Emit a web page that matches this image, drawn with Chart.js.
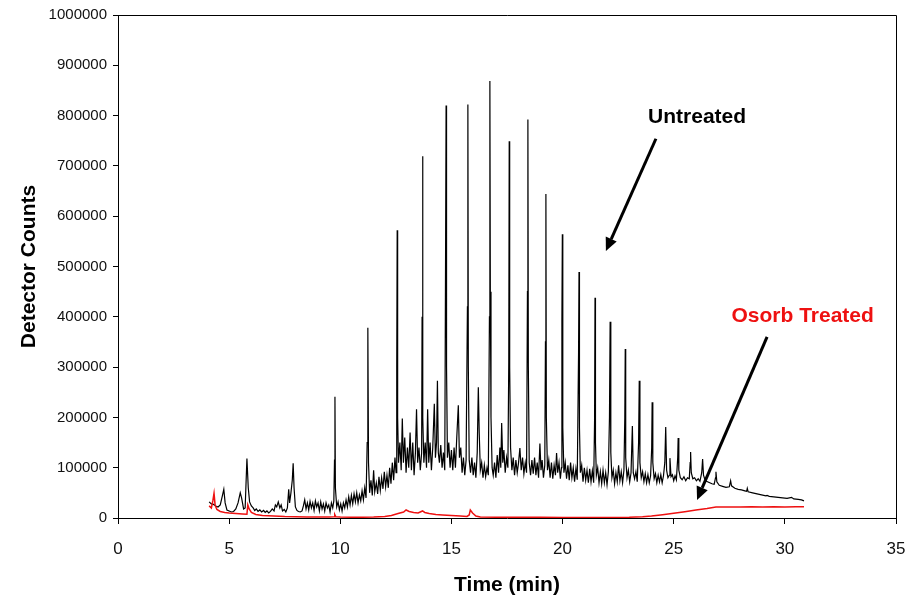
<!DOCTYPE html>
<html>
<head>
<meta charset="utf-8">
<script src="https://cdn.jsdelivr.net/npm/chart.js@4.4.0/dist/chart.umd.min.js"></script>
<style>
    html, body { margin: 0; padding: 0; background: #fff; }
    #wrap { width: 921px; height: 600px; }
</style>
</head>
<body>
<div id="wrap"><canvas id="chart" width="921" height="600"></canvas></div>
<script>
// Eixos
const xTickValues = [0, 5, 10, 15, 20, 25, 30, 35];
const yTickValues = [0, 100000, 200000, 300000, 400000, 500000, 600000, 700000, 800000, 900000, 1000000];

// Amostra sem tratamento (tempo em min, contagens)
const untreatedTime = [
    4.10, 4.20, 4.30, 4.40, 4.50, 4.60, 4.70, 4.76, 4.82, 4.90,
    5.00, 5.10, 5.20, 5.30, 5.40, 5.50, 5.56, 5.65, 5.72, 5.80,
    5.86, 5.92, 6.00, 6.08, 6.15, 6.22, 6.30, 6.38, 6.46, 6.55,
    6.62, 6.70, 6.78, 6.86, 6.94, 7.02, 7.08, 7.14, 7.21, 7.28,
    7.34, 7.40, 7.48, 7.55, 7.62, 7.68, 7.72, 7.78, 7.84, 7.88,
    7.92, 7.98, 8.05, 8.12, 8.20, 8.28, 8.34, 8.40, 8.46, 8.52,
    8.58, 8.64, 8.70, 8.76, 8.82, 8.88, 8.94, 9.00, 9.06, 9.12,
    9.18, 9.24, 9.30, 9.36, 9.42, 9.48, 9.54, 9.60, 9.66, 9.71,
    9.74, 9.76, 9.78, 9.84, 9.90, 9.96, 10.02, 10.08, 10.14, 10.20,
    10.26, 10.32, 10.38, 10.44, 10.50, 10.56, 10.62, 10.68, 10.74, 10.80,
    10.86, 10.92, 10.98, 11.04, 11.10, 11.16, 11.21, 11.24, 11.27, 11.32,
    11.38, 11.44, 11.50, 11.55, 11.62, 11.68, 11.74, 11.80, 11.86, 11.92,
    11.98, 12.04, 12.10, 12.16, 12.22, 12.28, 12.34, 12.40, 12.46, 12.51,
    12.54, 12.56, 12.58, 12.62, 12.68, 12.74, 12.79, 12.84, 12.90, 12.96,
    13.02, 13.08, 13.14, 13.20, 13.26, 13.32, 13.38, 13.43, 13.48, 13.54,
    13.60, 13.66, 13.68, 13.70, 13.72, 13.76, 13.82, 13.88, 13.93, 13.98,
    14.04, 14.10, 14.16, 14.23, 14.28, 14.33, 14.37, 14.41, 14.46, 14.52,
    14.58, 14.64, 14.70, 14.74, 14.76, 14.78, 14.82, 14.88, 14.94, 15.00,
    15.06, 15.12, 15.18, 15.24, 15.31, 15.36, 15.42, 15.48, 15.54, 15.60,
    15.66, 15.72, 15.74, 15.76, 15.80, 15.86, 15.92, 15.98, 16.04, 16.10,
    16.16, 16.21, 16.25, 16.30, 16.36, 16.42, 16.48, 16.54, 16.60, 16.66,
    16.71, 16.73, 16.75, 16.78, 16.83, 16.88, 16.94, 17.00, 17.06, 17.12,
    17.18, 17.22, 17.26, 17.31, 17.36, 17.42, 17.48, 17.54, 17.58, 17.60,
    17.62, 17.66, 17.72, 17.78, 17.84, 17.90, 17.96, 18.02, 18.08, 18.14,
    18.20, 18.26, 18.32, 18.38, 18.42, 18.44, 18.46, 18.50, 18.56, 18.62,
    18.68, 18.74, 18.80, 18.86, 18.92, 18.98, 19.03, 19.08, 19.14, 19.20,
    19.23, 19.25, 19.27, 19.32, 19.38, 19.44, 19.50, 19.56, 19.62, 19.68,
    19.73, 19.78, 19.84, 19.90, 19.95, 19.97, 19.99, 20.01, 20.06, 20.12,
    20.18, 20.24, 20.30, 20.36, 20.42, 20.48, 20.54, 20.60, 20.66, 20.72,
    20.74, 20.76, 20.80, 20.86, 20.92, 20.98, 21.04, 21.10, 21.16, 21.22,
    21.28, 21.34, 21.40, 21.44, 21.46, 21.48, 21.52, 21.58, 21.64, 21.70,
    21.76, 21.82, 21.88, 21.94, 22.00, 22.06, 22.11, 22.14, 22.17, 22.22,
    22.28, 22.34, 22.40, 22.46, 22.52, 22.58, 22.64, 22.70, 22.76, 22.80,
    22.82, 22.84, 22.90, 22.96, 23.02, 23.08, 23.14, 23.18, 23.24, 23.30,
    23.36, 23.42, 23.45, 23.48, 23.54, 23.60, 23.66, 23.72, 23.78, 23.84,
    23.90, 23.96, 24.01, 24.03, 24.06, 24.12, 24.18, 24.24, 24.30, 24.36,
    24.42, 24.48, 24.54, 24.60, 24.64, 24.68, 24.74, 24.80, 24.83, 24.88,
    24.94, 25.00, 25.06, 25.12, 25.18, 25.20, 25.23, 25.30, 25.38, 25.46,
    25.54, 25.62, 25.70, 25.74, 25.76, 25.79, 25.86, 25.94, 26.02, 26.10,
    26.18, 26.26, 26.30, 26.34, 26.42, 26.52, 26.62, 26.72, 26.82, 26.88,
    26.90, 26.94, 27.05, 27.20, 27.35, 27.50, 27.56, 27.60, 27.75, 27.90,
    28.05, 28.20, 28.28, 28.31, 28.35, 28.55, 28.75, 28.95, 29.15, 29.20,
    29.30, 29.50, 29.70, 29.90, 30.10, 30.30, 30.40, 30.60, 30.75, 30.86
];
const untreatedCounts = [
    32000, 28000, 27000, 24000, 22000, 26000, 45000, 57000, 30000, 16000,
    14000, 12000, 13000, 18000, 30000, 50000, 40000, 18000, 20000, 118000,
    60000, 32000, 24000, 20000, 15000, 18000, 13000, 16000, 12000, 15000,
    11000, 14000, 10000, 13000, 18000, 14000, 26000, 22000, 32000, 20000,
    26000, 14000, 17000, 12000, 20000, 57000, 30000, 50000, 75000, 109000,
    60000, 22000, 15000, 13000, 12000, 14000, 24000, 36000, 18000, 30000,
    16000, 33000, 20000, 30000, 15000, 34000, 22000, 30000, 14000, 32000,
    18000, 28000, 14000, 30000, 20000, 26000, 12000, 30000, 20000, 34000,
    115000, 241000, 60000, 22000, 32000, 16000, 28000, 14000, 30000, 20000,
    36000, 22000, 42000, 26000, 45000, 28000, 48000, 32000, 50000, 30000,
    46000, 34000, 54000, 36000, 60000, 40000, 150000, 378000, 110000, 50000,
    75000, 45000, 95000, 52000, 70000, 48000, 82000, 55000, 80000, 58000,
    92000, 62000, 85000, 60000, 100000, 68000, 110000, 75000, 120000, 90000,
    300000, 572000, 200000, 110000, 150000, 95000, 198000, 110000, 160000, 90000,
    140000, 100000, 170000, 95000, 150000, 85000, 130000, 216000, 110000, 140000,
    95000, 130000, 400000, 719000, 200000, 110000, 150000, 100000, 216000, 110000,
    150000, 95000, 140000, 227000, 120000, 150000, 273000, 130000, 110000, 145000,
    100000, 130000, 95000, 560000, 820000, 300000, 120000, 150000, 100000, 135000,
    95000, 140000, 100000, 160000, 224000, 120000, 140000, 90000, 120000, 85000,
    115000, 420000, 822000, 300000, 115000, 90000, 120000, 85000, 110000, 80000,
    130000, 260000, 170000, 95000, 110000, 80000, 105000, 82000, 100000, 85000,
    400000, 869000, 450000, 200000, 100000, 85000, 110000, 80000, 125000, 90000,
    140000, 100000, 189000, 110000, 135000, 90000, 120000, 100000, 310000, 749000,
    300000, 140000, 95000, 120000, 85000, 115000, 90000, 110000, 139000, 95000,
    120000, 88000, 110000, 90000, 450000, 792000, 300000, 110000, 85000, 115000,
    88000, 120000, 85000, 110000, 80000, 148000, 95000, 115000, 80000, 105000,
    350000, 644000, 200000, 95000, 115000, 80000, 110000, 78000, 105000, 85000,
    129000, 90000, 110000, 78000, 100000, 390000, 564000, 180000, 90000, 110000,
    78000, 105000, 75000, 110000, 80000, 100000, 72000, 98000, 76000, 330000,
    489000, 180000, 90000, 105000, 72000, 100000, 75000, 95000, 70000, 98000,
    72000, 94000, 70000, 194000, 438000, 150000, 85000, 100000, 70000, 92000,
    68000, 95000, 70000, 90000, 66000, 92000, 200000, 390000, 130000, 80000,
    95000, 68000, 90000, 72000, 105000, 74000, 92000, 70000, 95000, 200000,
    336000, 120000, 80000, 95000, 72000, 90000, 183000, 90000, 78000, 92000,
    72000, 150000, 273000, 110000, 80000, 92000, 72000, 88000, 70000, 86000,
    70000, 84000, 140000, 230000, 110000, 78000, 88000, 70000, 85000, 72000,
    86000, 70000, 84000, 110000, 181000, 95000, 80000, 85000, 119000, 82000,
    86000, 74000, 84000, 76000, 120000, 159000, 95000, 80000, 76000, 82000,
    74000, 80000, 78000, 110000, 131000, 90000, 78000, 80000, 74000, 78000,
    73000, 90000, 117000, 85000, 74000, 72000, 70000, 68000, 67000, 80000,
    92000, 72000, 65000, 63000, 61000, 62000, 74000, 64000, 59000, 57000,
    56000, 54000, 53000, 59000, 52000, 50000, 48000, 46000, 44000, 45000,
    43000, 42000, 41000, 40000, 39000, 41000, 38000, 37000, 36000, 34000
];

// Amostra tratada com Osorb
const treatedTime = [
    4.10, 4.20, 4.27, 4.32, 4.37, 4.45, 4.60, 4.80, 5.00, 5.30,
    5.60, 5.80, 5.84, 5.90, 6.00, 6.20, 6.50, 7.00, 7.50, 8.00,
    8.50, 9.00, 9.50, 9.72, 9.75, 9.80, 10.00, 10.50, 11.00, 11.50,
    12.00, 12.30, 12.60, 12.85, 12.96, 13.10, 13.30, 13.50, 13.70, 13.80,
    14.00, 14.30, 14.60, 15.00, 15.40, 15.70, 15.80, 15.85, 15.95, 16.10,
    16.30, 17.00, 18.00, 19.00, 20.00, 21.00, 22.00, 23.00, 23.60, 24.00,
    24.50, 25.00, 25.50, 26.00, 26.50, 26.90, 27.50, 28.00, 28.50, 29.00,
    29.50, 30.00, 30.50, 30.86
];
const treatedCounts = [
    24000, 20000, 35000, 49000, 25000, 17000, 13000, 11000, 10000, 9000,
    8000, 7500, 26000, 18000, 11000, 7000, 5000, 4000, 3000, 2500,
    2000, 2000, 2000, 2500, 7000, 2500, 2000, 1500, 1500, 2000,
    3000, 5000, 9000, 12000, 16000, 13000, 11000, 10000, 14000, 11000,
    9000, 7000, 6000, 5000, 4000, 3000, 6000, 16000, 10000, 4000,
    2000, 1500, 1500, 1500, 1000, 1000, 1000, 1500, 2500, 4000,
    6500, 9300, 12500, 16000, 19000, 22000, 22000, 22000, 22500, 22000,
    22500, 22000, 22500, 22500
];

// Rótulos com seta (coordenadas nos eixos do gráfico)
const callouts = [
    { text: 'Untreated', color: '#000000', at: [26.05, 796000], from: [24.2, 754000], to: [21.95, 531000] },
    { text: 'Osorb Treated', color: '#ee1111', at: [30.8, 402000], from: [29.2, 360000], to: [26.05, 36000] }
];

const FONT = "'Liberation Sans', Arial, sans-serif";

function toPoints(xs, ys) {
    return xs.map((x, i) => ({ x: x, y: ys[i] }));
}

// Moldura superior/direita e rótulos com seta
const framePlugin = {
    id: 'frameAndCallouts',
    afterDraw(chart) {
        const { ctx, chartArea: a, scales } = chart;
        ctx.save();
        ctx.strokeStyle = '#000';
        ctx.lineWidth = 1;
        ctx.beginPath();
        ctx.moveTo(a.left, Math.round(a.top) + 0.5);
        ctx.lineTo(Math.round(a.right) + 0.5, Math.round(a.top) + 0.5);
        ctx.lineTo(Math.round(a.right) + 0.5, a.bottom);
        ctx.stroke();

        callouts.forEach(c => {
            const x1 = scales.x.getPixelForValue(c.from[0]);
            const y1 = scales.y.getPixelForValue(c.from[1]);
            const x2 = scales.x.getPixelForValue(c.to[0]);
            const y2 = scales.y.getPixelForValue(c.to[1]);
            const ang = Math.atan2(y2 - y1, x2 - x1);
            const head = 13, half = 6;
            const bx = x2 - head * Math.cos(ang);
            const by = y2 - head * Math.sin(ang);

            ctx.strokeStyle = '#000';
            ctx.fillStyle = '#000';
            ctx.lineWidth = 3;
            ctx.beginPath();
            ctx.moveTo(x1, y1);
            ctx.lineTo(bx, by);
            ctx.stroke();
            ctx.beginPath();
            ctx.moveTo(x2, y2);
            ctx.lineTo(bx + half * Math.sin(ang), by - half * Math.cos(ang));
            ctx.lineTo(bx - half * Math.sin(ang), by + half * Math.cos(ang));
            ctx.closePath();
            ctx.fill();

            ctx.font = 'bold 21px ' + FONT;
            ctx.fillStyle = c.color;
            ctx.textAlign = 'center';
            ctx.textBaseline = 'middle';
            ctx.fillText(c.text, scales.x.getPixelForValue(c.at[0]), scales.y.getPixelForValue(c.at[1]));
        });
        ctx.restore();
    }
};

new Chart(document.getElementById('chart').getContext('2d'), {
    type: 'line',
    data: {
        datasets: [{
            label: 'Osorb Treated',
            data: toPoints(treatedTime, treatedCounts),
            borderColor: '#ee1111',
            borderWidth: 1.5,
            pointRadius: 0,
            tension: 0,
            order: 0
        }, {
            label: 'Untreated',
            data: toPoints(untreatedTime, untreatedCounts),
            borderColor: '#000000',
            borderWidth: 1.2,
            pointRadius: 0,
            tension: 0,
            order: 1
        }]
    },
    options: {
        responsive: false,
        animation: false,
        layout: { padding: { top: 12, right: 25, left: 0, bottom: 0 } },
        plugins: {
            legend: { display: false },
            tooltip: { enabled: false }
        },
        scales: {
            x: {
                type: 'linear',
                min: 0,
                max: 35,
                afterBuildTicks: scale => { scale.ticks = xTickValues.map(v => ({ value: v })); },
                afterFit: scale => { scale.height = 82; },
                ticks: {
                    color: '#111',
                    font: { family: FONT, size: 17 },
                    padding: 15,
                    maxRotation: 0
                },
                grid: { drawOnChartArea: false, tickLength: 6, color: '#000' },
                border: { color: '#000', width: 1 },
                title: {
                    display: true,
                    text: 'Time (min)',
                    color: '#000',
                    font: { family: FONT, size: 21, weight: 'bold' },
                    padding: { top: 4, bottom: 2 }
                }
            },
            y: {
                type: 'linear',
                min: 0,
                max: 1000000,
                afterBuildTicks: scale => { scale.ticks = yTickValues.map(v => ({ value: v })); },
                afterFit: scale => { scale.width = 118; },
                ticks: {
                    color: '#111',
                    font: { family: FONT, size: 15 },
                    padding: 6,
                    callback: v => String(v)
                },
                grid: { drawOnChartArea: false, tickLength: 5, color: '#000' },
                border: { color: '#000', width: 1 },
                title: {
                    display: true,
                    text: 'Detector Counts',
                    color: '#000',
                    font: { family: FONT, size: 21, weight: 'bold' },
                    padding: { top: 17, bottom: 4 }
                }
            }
        }
    },
    plugins: [framePlugin]
});
</script>
</body>
</html>
